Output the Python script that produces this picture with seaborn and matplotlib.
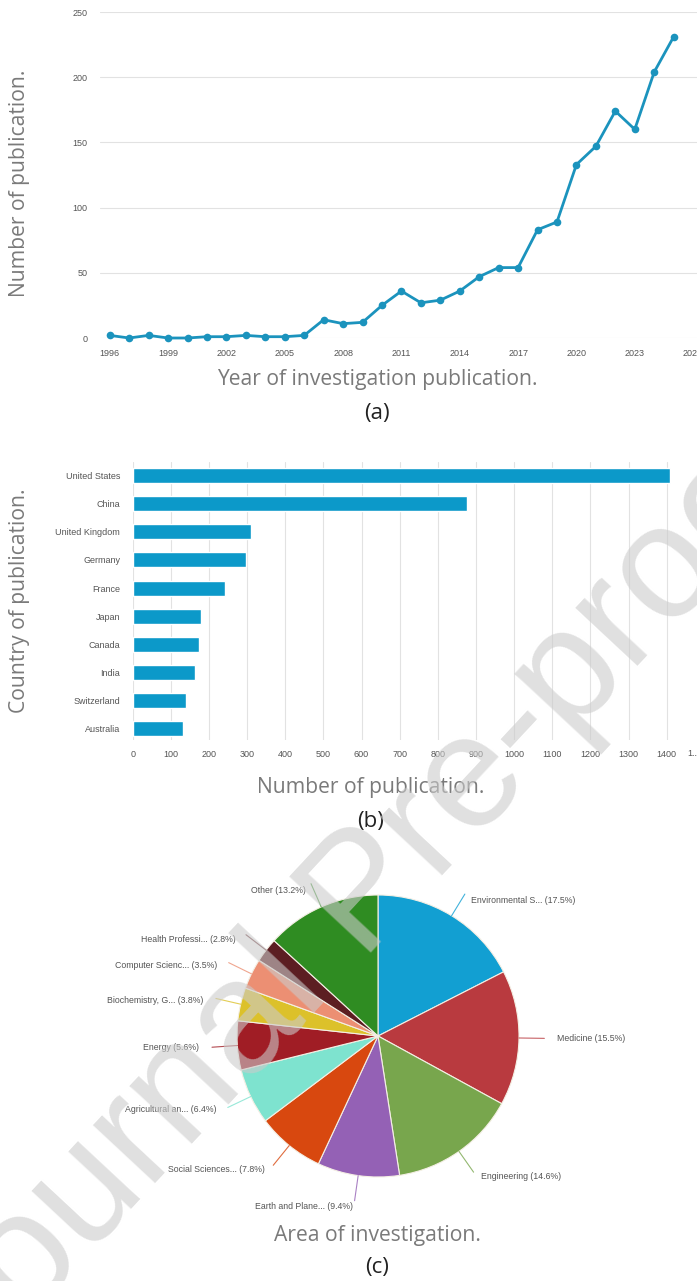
import matplotlib
matplotlib.use("Agg")
import matplotlib.pyplot as plt
import numpy as np
import pandas as pd
import seaborn as sns

# (a) publications per year
years = list(range(1996, 2026))
pubs = [2, 0, 2, 0, 0, 1, 1, 2, 1, 1,
        2, 14, 11, 12, 25, 36, 27, 29, 36, 47,
        54, 54, 83, 89, 133, 147, 174, 160, 204, 231]
year_ticks = list(range(1996, 2027, 3))
pub_ticks = [0, 50, 100, 150, 200, 250]

# (b) publications per country
countries = ["United States", "China", "United Kingdom", "Germany", "France",
             "Japan", "Canada", "India", "Switzerland", "Australia"]
counts = [1410, 876, 310, 296, 243, 179, 174, 163, 139, 133]
count_ticks = list(range(0, 1401, 100))

# (c) area of investigation
areas = ["Environmental S...", "Medicine", "Engineering", "Earth and Plane...",
         "Social Sciences...", "Agricultural an...", "Energy", "Biochemistry, G...",
         "Computer Scienc...", "Health Professi...", "Other"]
shares = [17.5, 15.5, 14.6, 9.4, 7.8, 6.4, 5.6, 3.8, 3.5, 2.8, 13.2]
area_colors = ["#129fd2", "#b93a3f", "#78a64d", "#9461b5", "#d8480f", "#7ee3cf",
               "#a01d25", "#dcc12a", "#ec8f73", "#5c1e22", "#2f8c22"]

W, H = 697, 1281
sns.set_style("white")
plt.rcParams["font.family"] = ["Liberation Sans", "DejaVu Sans"]

TICK_COLOR = "#555555"
LABEL_COLOR = "#7a7a7a"
BLUE_LINE = "#1b93bd"
BLUE_BAR = "#0c99c9"


def box(left, top, right, bottom):
    return [left / W, 1 - bottom / H, (right - left) / W, (bottom - top) / H]


def fig_text(fig, x, y, s, **kw):
    fig.text(x / W, 1 - y / H, s, ha="center", va="center", **kw)


fig = plt.figure(figsize=(W / 100, H / 100), dpi=100)

# ---- (a) line chart
ax1 = fig.add_axes(box(100, 12, 697, 338))
sns.lineplot(x=years, y=pubs, ax=ax1, color=BLUE_LINE, linewidth=2,
             marker="o", markersize=5.5, markeredgewidth=0, clip_on=False)
ax1.set_xlim(1995.5, 2026.2)
ax1.set_ylim(0, 250)
ax1.set_xticks(year_ticks)
ax1.set_yticks(pub_ticks)
ax1.yaxis.grid(True, color="#e2e2e2", linewidth=0.8)
ax1.xaxis.grid(False)
ax1.set_axisbelow(True)
for s in ax1.spines.values():
    s.set_visible(False)
ax1.tick_params(length=0, labelsize=6.5, colors=TICK_COLOR)
ax1.tick_params(axis="y", pad=9)
ax1.tick_params(axis="x", pad=8)
ax1.set_xlabel("")
ax1.set_ylabel("")

# ---- (b) bar chart
ax2 = fig.add_axes(box(132.7, 462, 697, 740))
bar_df = pd.DataFrame({"country": countries, "count": counts})
sns.barplot(data=bar_df, x="count", y="country", orient="h", ax=ax2,
            color=BLUE_BAR, saturation=1, width=0.53)
ax2.set_xlim(0, 1479.6)
ax2.set_ylim(9.4, -0.48)
ax2.set_xticks(count_ticks)
ax2.xaxis.grid(True, color="#e2e2e2", linewidth=0.8)
ax2.yaxis.grid(False)
ax2.set_axisbelow(True)
for s in ax2.spines.values():
    s.set_visible(False)
ax2.tick_params(length=0, labelsize=6.5, colors=TICK_COLOR)
ax2.tick_params(axis="y", pad=9)
ax2.tick_params(axis="x", pad=7)
ax2.text(0.982, -0.047, "1...", transform=ax2.transAxes, ha="left", va="center",
         fontsize=6.5, color=TICK_COLOR)
ax2.set_xlabel("")
ax2.set_ylabel("")

# ---- (c) pie chart
ax3 = fig.add_axes(box(378 - 211.5, 1036 - 211.5, 378 + 211.5, 1036 + 211.5))
wedges, _ = ax3.pie(shares, colors=area_colors, startangle=90, counterclock=False,
                    wedgeprops=dict(edgecolor="#f4efe4", linewidth=0.8))
for w, name, val, col in zip(wedges, areas, shares, area_colors):
    ang = np.deg2rad((w.theta1 + w.theta2) / 2)
    c, s = np.cos(ang), np.sin(ang)
    ax3.plot([c, 1.18 * c], [s, 1.18 * s], color=col, linewidth=0.8, alpha=0.8)
    ty = 1.13 * s if s > 0 else 1.22 * s
    ax3.text(1.27 * c, ty, f"{name} ({val}%)",
             ha="left" if c > 0 else "right",
             va="center", fontsize=6.3, color=TICK_COLOR)
ax3.set_xlim(-1.5, 1.5)
ax3.set_ylim(-1.5, 1.5)
ax3.set_aspect("equal")
ax3.axis("off")

# ---- captions
cap = dict(family=["Open Sans", "DejaVu Sans"], color=LABEL_COLOR, fontsize=15.2)
sub = dict(family=["Open Sans", "DejaVu Sans"], color="#222222", fontsize=16)
fig_text(fig, 20, 183, "Number of publication.", rotation=90, **cap)
fig_text(fig, 377, 380, "Year of investigation publication.", **cap)
fig_text(fig, 377, 413, "(a)", **sub)
fig_text(fig, 20, 601, "Country of publication.", rotation=90, **cap)
fig_text(fig, 371, 787, "Number of publication.", **cap)
fig_text(fig, 371, 822, "(b)", **sub)
fig_text(fig, 377, 1235, "Area of investigation.", **cap)
fig_text(fig, 377, 1268, "(c)", **sub)

# watermark
fig.text(-29 / W, 1 - 1381 / H, "Journal Pre-proof", rotation=47,
         rotation_mode="anchor", ha="left", va="baseline", fontsize=116,
         family=["Liberation Sans"], color="#cbcbcb", alpha=0.6, zorder=10)

fig.savefig("out.png", dpi=100)
